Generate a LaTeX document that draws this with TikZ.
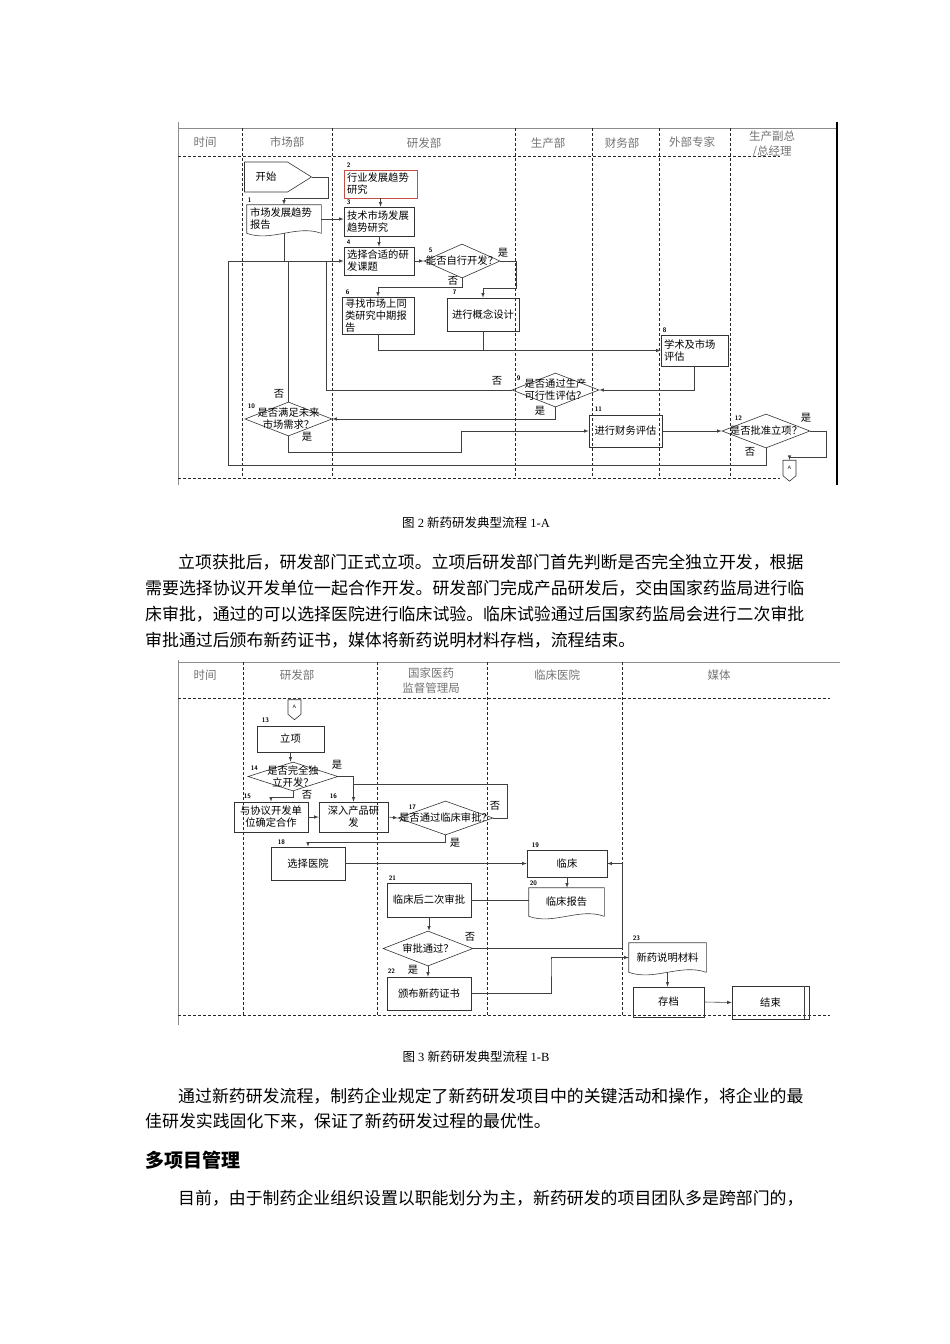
\documentclass[tikz,border=0pt]{standalone}
\usepackage{fontspec}
\setmainfont{Liberation Serif}
\newfontfamily\cjk{Noto Sans CJK SC}
\usetikzlibrary{shapes.geometric}
\usetikzlibrary{shapes.symbols}
\usetikzlibrary{positioning}
\usetikzlibrary{calc}

\definecolor{boxred}{RGB}{196,78,72}

\newcommand\diag{\cjk\fontsize{10.3}{12}\selectfont}
\newcommand\bodyfont{\cjk\fontsize{16.9}{20}\selectfont}

\tikzset{
  frame/.style={draw=black!45, line width=0.8pt},
  lane/.style={draw=black!85, line width=0.8pt, dash pattern=on 3pt off 2pt},
  head/.style={font=\cjk\fontsize{11.5}{15}\selectfont, text=black!55, align=center, inner sep=0pt},
  box/.style={draw=black!80, line width=0.6pt, font=\diag, inner xsep=3pt, inner ysep=2pt, align=left},
  cbox/.style={box, align=center},
  doc/.style={box, draw=none},
  dia/.style={diamond, draw=black!80, line width=0.6pt, inner sep=0pt},
  dtxt/.style={font=\diag, align=center, inner sep=0pt},
  sig/.style={signal, draw=black!80, line width=0.6pt, inner sep=0pt},
  num/.style={font=\sffamily\bfseries\fontsize{6.5}{7}\selectfont, inner sep=0pt},
  yn/.style={font=\diag, inner sep=0pt},
  conn/.style={draw=black!75, line width=0.6pt},
  arr/.style={conn, -latex},
  body/.style={font=\bodyfont, anchor=west, inner sep=0pt},
  figcap/.style={font=\fontsize{12.5}{15}\selectfont, inner sep=0pt},
}

% document shape: wavy bottom edge
\newcommand\docoutline[1]{%
  \draw[conn] (#1.north west) -- (#1.north east) -- (#1.south east)
    .. controls ($(#1.south east)!0.33!(#1.south west)+(0,-9)$)
       and ($(#1.south west)!0.33!(#1.south east)+(0,9)$) .. (#1.south west) -- cycle;}

\begin{document}
\begin{tikzpicture}[x=1pt, y=-1pt]
  \useasboundingbox (0,0) rectangle (950,1344);

  %% ---------- chart 1-A ----------
  \draw[frame] (178,122) -- (178,485);
  \draw[frame] (178,128) -- (837,128);
  \draw[line width=2pt] (837,122) -- (837,485);
  \draw[lane] (178,156) -- (780,156);
  \draw[lane] (178,478) -- (780,478);
  \foreach \x in {242,332,515,592,659,730}
    \draw[lane] (\x,128) -- (\x,478);
  \foreach \x/\y/\t [count=\i] in {205/142/时间, 287/142/市场部, 424/143/研发部, 548/143/生产部,
      622/143/财务部, 692/142/外部专家, 772/144/{生产副总\\/总经理}}
    \node[head] (ha\i) at (\x,\y) {\t};

  \node[sig, signal to=east, signal pointer angle=64, font=\diag,
        minimum width=67pt, minimum height=30pt] (st) at (266,177) {开始};
  \node[doc, text width=68pt, minimum height=28pt] (b1) at (284,219) {市场发展趋势\\报告};
  \docoutline{b1}
  \node[box, draw=boxred, text width=67pt, minimum height=28pt] (b2) at (380.5,184) {行业发展趋势\\研究};
  \node[box, text width=64pt, minimum height=29pt] (b3) at (379,221.5) {技术市场发展\\趋势研究};
  \node[box, text width=64pt, minimum height=28pt] (b4) at (379,261) {选择合适的研\\发课题};
  \node[dia, minimum width=76pt, minimum height=34pt,
        label={[dtxt]center:能否自行开发？}] (d5) at (462,261) {};
  \node[box, text width=66pt, minimum height=37pt, inner ysep=0.5pt] (b6) at (378,315.5) {寻找市场上同\\类研究中期报\\告};
  \node[cbox, minimum width=72pt, minimum height=33pt] (b7) at (483,314.5) {进行概念设计};
  \node[box, text width=61pt, minimum height=31pt] (b8) at (694.5,350.5) {学术及市场\\评估};
  \node[dia, minimum width=87pt, minimum height=34pt,
        label={[dtxt]center:{是否通过生产\\可行性评估？}}] (d9) at (555.5,390) {};
  \node[dia, minimum width=87pt, minimum height=34pt,
        label={[dtxt]center:{是否满足未来\\市场需求？}}] (d10) at (288.5,419) {};
  \node[cbox, minimum width=73pt, minimum height=32pt] (b11) at (625.5,431) {进行财务评估};
  \node[dia, minimum width=88pt, minimum height=34pt,
        label={[dtxt]center:是否批准立项？}] (d12) at (766,431) {};
  \node[sig, signal to=south, signal pointer angle=100, font=\sffamily\fontsize{5}{6}\selectfont,
        minimum width=13pt, minimum height=17pt] (ca) at (789.5,468) {A};

  \node[num, above right=2pt and 1pt of b1.north west] (l1) {1};
  \node[num, above right=2pt and 3pt of b2.north west] (l2) {2};
  \node[num, above right=2pt and 3pt of b3.north west] (l3) {3};
  \node[num, above right=2pt and 3pt of b4.north west] (l4) {4};
  \node[num, above right=8pt and 5pt of d5.west] (l5) {5};
  \node[num, above right=2pt and 4pt of b6.north west] (l6) {6};
  \node[num, above right=3pt and 6pt of b7.north west] (l7) {7};
  \node[num, above right=2pt and 2pt of b8.north west] (l8) {8};
  \node[num, above right=9pt and 5pt of d9.west] (l9) {9};
  \node[num, above right=10pt and 3pt of d10.west] (l10) {10};
  \node[num, above right=3pt and 6pt of b11.north west] (l11) {11};
  \node[num, above right=10pt and 13pt of d12.west] (l12) {12};

  \coordinate (k1) at (328,198);
  \draw[arr] (st.east) -| (k1) -| (b1.north);
  \draw[arr] (b2.south) -- (b2.south |- b3.north);
  \draw[arr] (b1.east) -- (b1.east -| b3.west);
  \draw[arr] (b3.south) -- (b3.south |- b4.north);
  \draw[arr] (b4.east) -- (d5.west);
  \coordinate (k2) at (516,288);
  \draw[arr] (d5.east) -| (k2) -| (b7.north);
  \coordinate (k3) at (462,287);
  \draw[arr] (d5.south) -- (k3) -| (b6.north);
  \draw[arr] (b6.south) |- (b8.west);
  \draw[conn] (b7.south) -- (b7.south |- b8.west);
  \draw[arr] (b8.south) |- (d9.east);
  \draw[arr] (d9.south) |- (d10.east);
  \coordinate (k4) at (461,452);
  \draw[arr] (d10.south) |- (k4) |- (b11.west);
  \draw[arr] (b11.east) -- (d12.west);
  \coordinate (k5) at (826,457);
  \draw[arr] (d12.east) -| (k5) -| (ca.north);
  \coordinate (k6) at (228,465);
  \draw[arr] (d12.south) |- (k6) |- (b4.west);
  \draw[conn] (b1.south) -- (b1.south |- b4.west);
  \draw[conn] (d10.north) -- (d10.north |- b4.west);
  \coordinate (k7) at (326,261);
  \draw[conn] (d9.west) -| (k7);

  \node[yn] (y5) at (503,253) {是};
  \node[yn] (n5) at (453,281) {否};
  \node[yn] (n9) at (497,381) {否};
  \node[yn] (y9) at (540,411) {是};
  \node[yn] (n10) at (279,394) {否};
  \node[yn] (y10) at (307,437) {是};
  \node[yn] (y12) at (806,418) {是};
  \node[yn] (n12) at (750,452) {否};

  \node[figcap] (cap1) at (476,523) {{\cjk 图} 2 {\cjk 新药研发典型流程} 1-A};

  \node[body] (p1) at (178,562) {立项获批后，研发部门正式立项。立项后研发部门首先判断是否完全独立开发，根据};
  \node[body] (p2) at (145,588) {需要选择协议开发单位一起合作开发。研发部门完成产品研发后，交由国家药监局进行临};
  \node[body] (p3) at (145,614) {床审批，通过的可以选择医院进行临床试验。临床试验通过后国家药监局会进行二次审批};
  \node[body] (p4) at (145,640) {审批通过后颁布新药证书，媒体将新药说明材料存档，流程结束。};

  %% ---------- chart 1-B ----------
  \draw[frame] (178,660) -- (178,1025);
  \draw[frame] (178,662) -- (840,662);
  \draw[lane] (178,698) -- (830,698);
  \draw[lane] (178,1015) -- (830,1015);
  \foreach \x in {243,377,487,622}
    \draw[lane] (\x,662) -- (\x,1015);
  \foreach \x/\y/\t [count=\i] in {205/675/时间, 297/675/研发部, 431/681/{国家医药\\监督管理局},
      557/675/临床医院, 719/675/媒体}
    \node[head] (hb\i) at (\x,\y) {\t};

  \node[sig, signal to=south, signal pointer angle=100, font=\sffamily\fontsize{5}{6}\selectfont,
        minimum width=13pt, minimum height=16pt] (cb) at (294.5,707) {A};
  \node[cbox, minimum width=67pt, minimum height=26pt] (b13) at (290.5,739) {立项};
  \node[dia, minimum width=90pt, minimum height=29pt,
        label={[dtxt]center:{是否完全独\\立开发？}}] (d14) at (293,776.5) {};
  \node[cbox, minimum width=74pt, minimum height=30pt] (b15) at (271,817) {与协议开发单\\位确定合作};
  \node[cbox, minimum width=69pt, minimum height=30pt] (b16) at (353.5,817) {深入产品研\\发};
  \node[dia, minimum width=95pt, minimum height=34pt,
        label={[dtxt]center:是否通过临床审批？}] (d17) at (445.5,818) {};
  \node[cbox, minimum width=74pt, minimum height=33pt] (b18) at (308,863.5) {选择医院};
  \node[cbox, minimum width=80pt, minimum height=27pt] (b19) at (567,863.5) {临床};
  \node[doc, align=center, minimum width=75pt, minimum height=28pt] (b20) at (566.5,902) {临床报告};
  \docoutline{b20}
  \node[cbox, minimum width=84pt, minimum height=34pt] (b21) at (429,900) {临床后二次审批};
  \node[dia, minimum width=90pt, minimum height=35pt,
        label={[dtxt]center:审批通过？}] (dA) at (428,948.5) {};
  \node[cbox, minimum width=84pt, minimum height=33pt] (b22) at (429,993.5) {颁布新药证书};
  \node[doc, align=center, minimum width=77pt, minimum height=29pt] (b23) at (667.5,957.5) {新药说明材料};
  \docoutline{b23}
  \node[cbox, minimum width=71pt, minimum height=30pt] (arc) at (668.5,1002) {存档};
  \node[cbox, minimum width=77pt, minimum height=33pt] (fin) at (770.5,1002.5) {结束};
  \draw[conn] ([xshift=-5pt]fin.north east) -- ([xshift=-5pt]fin.south east);

  \node[num, above right=3pt and 5pt of b13.north west] (l13) {13};
  \node[num, above right=6pt and 3pt of d14.west] (l14) {14};
  \node[num, above right=3pt and 10pt of b15.north west] (l15) {15};
  \node[num, above right=3pt and 11pt of b16.north west] (l16) {16};
  \node[num, above right=8pt and 11pt of d17.west] (l17) {17};
  \node[num, above right=2pt and 7pt of b18.north west] (l18) {18};
  \node[num, above right=2pt and 5pt of b19.north west] (l19) {19};
  \node[num, above right=2pt and 1pt of b20.north west] (l20) {20};
  \node[num, above right=2pt and 2pt of b21.north west] (l21) {21};
  \node[num, above right=3pt and 1pt of b22.north west] (l22) {22};
  \node[num, above right=2pt and 4pt of b23.north west] (l23) {23};

  \draw[arr] (b13.south) -- (b13.south |- d14.north);
  \draw[arr] (d14.east) -| (b16.north);
  \coordinate (k8) at (293,797);
  \draw[arr] (d14.south) -- (k8) -| (b15.north);
  \draw[arr] (b15.east) -- (b16.west);
  \draw[arr] (b16.east) -- (d17.west);
  \coordinate (k9) at (507,784);
  \draw[conn] (d17.east) -| (k9) -- (k9 -| b16.north);
  \coordinate (k10) at (445.5,842);
  \draw[arr] (d17.south) -- (k10) -| (b18.north);
  \draw[arr] (b18.east) -- (b18.east -| b19.west);
  \draw[arr] (b19.south) -- (b19.south |- b20.north);
  \draw[conn] (b21.east) -- (b21.east -| b20.west);
  \draw[arr] (b21.south) -- (b21.south |- dA.north);
  \coordinate (k11) at (622,948.5);
  \draw[arr] (dA.east) -- (k11) |- (b19.east);
  \draw[arr] (dA.south) -- (dA.south |- b22.north);
  \coordinate (k12) at (551,960);
  \draw[arr] (b22.east) -| (k12) |- (b23.west);
  \draw[arr] (b23.south) -- (b23.south |- arc.north);
  \draw[arr] (arc.east) -- (fin.west);

  \node[yn] (y14) at (337,765) {是};
  \node[yn] (n14) at (307,795) {否};
  \node[yn] (n17) at (495,806) {否};
  \node[yn] (y17) at (455,843) {是};
  \node[yn] (nA) at (470,937) {否};
  \node[yn] (yA) at (413,970) {是};

  \node[figcap] (cap2) at (476,1057) {{\cjk 图} 3 {\cjk 新药研发典型流程} 1-B};

  \node[body] (q1) at (178,1096) {通过新药研发流程，制药企业规定了新药研发项目中的关键活动和操作，将企业的最};
  \node[body] (q2) at (145,1121) {佳研发实践固化下来，保证了新药研发过程的最优性。};
  \node[body, font=\cjk\bfseries\fontsize{19}{22}\selectfont] (hd) at (145,1160) {多项目管理};
  \node[body] (q3) at (178,1198) {目前，由于制药企业组织设置以职能划分为主，新药研发的项目团队多是跨部门的，};
\end{tikzpicture}
\end{document}
